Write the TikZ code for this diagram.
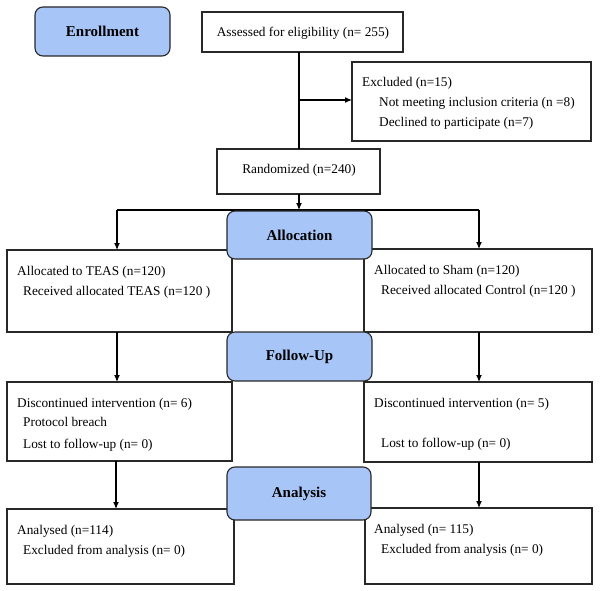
\documentclass[tikz,border=0pt]{standalone}
\usepackage{fontspec}
\setmainfont{Liberation Serif}
\usetikzlibrary{arrows.meta}
\definecolor{phaseblue}{RGB}{168,197,247}
\definecolor{edge}{RGB}{40,40,40}
\tikzset{
  box/.style={draw=edge, line width=1.1pt, fill=white, anchor=north west, inner sep=0pt, outer sep=0pt},
  phase/.style={draw=edge, line width=1.1pt, fill=phaseblue, rounded corners=8pt, anchor=north west, inner sep=0pt, outer sep=0pt, font=\fontsize{15}{18}\selectfont\bfseries},
  txt/.style={anchor=base west, inner sep=0pt, font=\fontsize{13.3}{16}\selectfont},
  ctxt/.style={anchor=base, inner sep=0pt, font=\fontsize{13.3}{16}\selectfont},
  conn/.style={draw=black, line width=1.1pt},
  arr/.style={conn, -{Latex[length=7pt,width=6pt]}}
}
\begin{document}
\begin{tikzpicture}[x=1pt,y=-1pt]
\useasboundingbox (0,0) rectangle (600,591);
% plain boxes
\node[box, minimum width=201pt, minimum height=40pt] (assess) at (202,12) {};
\node[box, minimum width=239pt, minimum height=79pt] (excl) at (352,62) {};
\node[box, minimum width=163pt, minimum height=45pt] (rand) at (217,149) {};
\node[box, minimum width=225pt, minimum height=82pt] (teas) at (7,250) {};
\node[box, minimum width=228pt, minimum height=83pt] (sham) at (364,249) {};
\node[box, minimum width=225pt, minimum height=79pt] (discL) at (7,382) {};
\node[box, minimum width=228pt, minimum height=80pt] (discR) at (364,382) {};
\node[box, minimum width=227pt, minimum height=75pt] (anaL) at (7,509) {};
\node[box, minimum width=227pt, minimum height=76pt] (anaR) at (365,508) {};
% coordinates
\coordinate (trunk) at (299,52);
\coordinate (split) at (299,100);
\coordinate (randTop) at (299,149);
\coordinate (brL) at (117,210);
\coordinate (brM) at (299,210);
\coordinate (brR) at (479,210);
% connectors
\draw[conn] (trunk) -- (randTop);
\draw[arr] (split) -- (split -| excl.west);
\draw[arr] (rand.south -| brM) -- (brM);
\draw[conn] (brL) -- (brR);
\draw[arr] (brL) -- (brL |- teas.north);
\draw[arr] (brR) -- (brR |- sham.north);
\draw[arr] (brL |- teas.south) -- (brL |- discL.north);
\draw[arr] (brR |- sham.south) -- (brR |- discR.north);
\draw[arr] (116,461) coordinate (dL) -- (dL |- anaL.north);
\draw[arr] (brR |- discR.south) -- (brR |- anaR.north);
% phase boxes
\node[phase, minimum width=135pt, minimum height=49pt] (enroll) at (35,7) {};
\node[phase, minimum width=145pt, minimum height=48pt] (alloc) at (227,211) {};
\node[phase, minimum width=145pt, minimum height=49pt] (follow) at (227,332) {};
\node[phase, minimum width=144pt, minimum height=53pt] (analysis) at (227,467) {};
\node[font=\fontsize{15}{18}\selectfont\bfseries] (enrollT) at (enroll.center) {Enrollment};
\node[font=\fontsize{15}{18}\selectfont\bfseries] (allocT) at (alloc.center) {Allocation};
\node[font=\fontsize{15}{18}\selectfont\bfseries] (followT) at (follow.center) {Follow-Up};
\node[font=\fontsize{15}{18}\selectfont\bfseries] (analysisT) at (analysis.center) {Analysis};
% texts
\node[ctxt] (assessT) at (303,37) {Assessed for eligibility (n= 255)};
\node[txt] (exT1) at (362,87) {Excluded (n=15)};
\node[txt] (exT2) at (379,107) {Not meeting inclusion criteria (n =8)};
\node[txt] (exT3) at (379,127) {Declined to participate (n=7)};
\node[ctxt] (randT) at (299,174) {Randomized (n=240)};
\node[txt] (teasT1) at (17,275) {Allocated to TEAS (n=120)};
\node[txt] (teasT2) at (23,295) {Received allocated TEAS (n=120 )};
\node[txt] (shamT1) at (374,274) {Allocated to Sham (n=120)};
\node[txt] (shamT2) at (381,294) {Received allocated Control (n=120 )};
\node[txt] (dLT1) at (17,407) {Discontinued intervention (n= 6)};
\node[txt] (dLT2) at (23,426) {Protocol breach};
\node[txt] (dLT3) at (23,448) {Lost to follow-up (n= 0)};
\node[txt] (dRT1) at (374,407) {Discontinued intervention (n= 5)};
\node[txt] (dRT3) at (381,447) {Lost to follow-up (n= 0)};
\node[txt] (aLT1) at (17,534) {Analysed (n=114)};
\node[txt] (aLT2) at (23,554) {Excluded from analysis (n= 0)};
\node[txt] (aRT1) at (374,533) {Analysed (n= 115)};
\node[txt] (aRT2) at (381,553) {Excluded from analysis (n= 0)};
\end{tikzpicture}
\end{document}
